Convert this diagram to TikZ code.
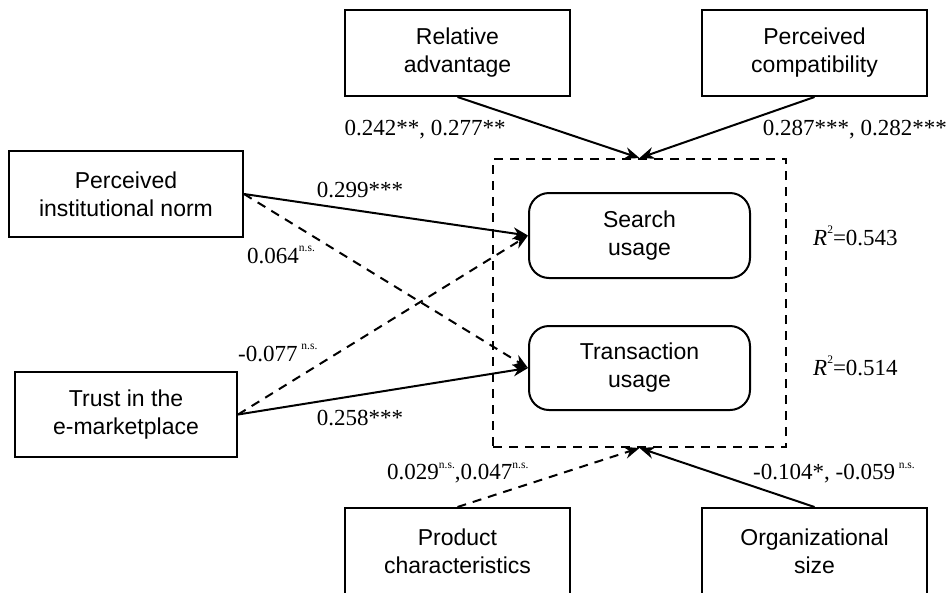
\documentclass[tikz,border=0pt]{standalone}
\usepackage{fontspec}
\setmainfont{Liberation Serif}
\setsansfont{Liberation Sans}
\usetikzlibrary{arrows.meta}
\newcommand{\nsig}{\raisebox{0.5em}{\fontsize{11.5}{12}\selectfont n.s.}}
\newcommand{\rdos}{\textit{R}\raisebox{0.55em}{\fontsize{11.5}{12}\selectfont 2}}

\tikzset{
	caja/.style={draw, line width=2pt, minimum width=225pt, minimum height=86pt, align=center, inner sep=0pt, font=\sffamily\fontsize{23}{28}\selectfont},
	usobox/.style={caja, rounded corners=20pt, minimum width=221pt, minimum height=85pt},
	coef/.style={inner sep=0pt, font=\fontsize{23}{25}\selectfont},
	flecha/.style={line width=2pt, -{Stealth[length=15pt,width=12pt]}},
	discont/.style={flecha, dash pattern=on 9pt off 7pt},
}

\begin{document}
\begin{tikzpicture}[x=1pt, y=-1pt]
		\useasboundingbox (0,0) rectangle (949,592);
		
		% Cajas de los factores
		\node[caja] (rel) at (457.5,53) {Relative\\advantage};
		\node[caja] (comp) at (814.5,53) {Perceived\\compatibility};
		\node[caja, minimum width=234pt] (norm) at (126,194) {Perceived\\institutional norm};
		\node[caja, minimum width=222pt, minimum height=85pt] (trust) at (126,414.5) {Trust in the\\e-marketplace};
		\node[caja, minimum height=87pt] (prod) at (457.5,551.5) {Product\\characteristics};
		\node[caja, minimum height=87pt] (size) at (814.5,551.5) {Organizational\\size};
		
		% Uso del e-marketplace
		\node[draw, line width=2pt, dash pattern=on 9pt off 7pt, minimum width=293pt, minimum height=288pt, inner sep=0pt] (uso) at (639.5,303) {};
		\node[usobox] (search) at (639.5,235.5) {Search\\usage};
		\node[usobox, minimum height=84pt] (trans) at (639.5,368) {Transaction\\usage};
		
		% Flechas
		\draw[flecha] (rel.south) -- (uso.north);
		\draw[flecha] (comp.south) -- (uso.north);
		\draw[flecha] (norm.east) -- (search.west);
		\draw[discont] (norm.east) -- (trans.west);
		\draw[discont] (trust.east) -- (search.west);
		\draw[flecha] (trust.east) -- (trans.west);
		\draw[discont] (prod.north) -- (uso.south);
		\draw[flecha] (size.north) -- (uso.south);
		
		% Coeficientes
		\node[coef] (c1) at (425,130) {0.242**, 0.277**};
		\node[coef, anchor=east] (c2) at (947,130) {0.287***, 0.282***};
		\node[coef] (c3) at (360,190) {0.299***};
		\node[coef, anchor=west] (c4) at (247,255) {0.064\nsig};
		\node[coef, anchor=west] (c5) at (238,353) {-0.077\,\nsig};
		\node[coef] (c6) at (360,418) {0.258***};
		\node[coef, anchor=west] (c7) at (387,473) {0.029\nsig,0.047\nsig};
		\node[coef, anchor=west] (c8) at (753,473) {-0.104*, -0.059\,\nsig};
		\node[coef, anchor=west] (r1) at (813,236) {\rdos=0.543};
		\node[coef, anchor=west] (r2) at (813,366) {\rdos=0.514};
	\end{tikzpicture}
\end{document}
